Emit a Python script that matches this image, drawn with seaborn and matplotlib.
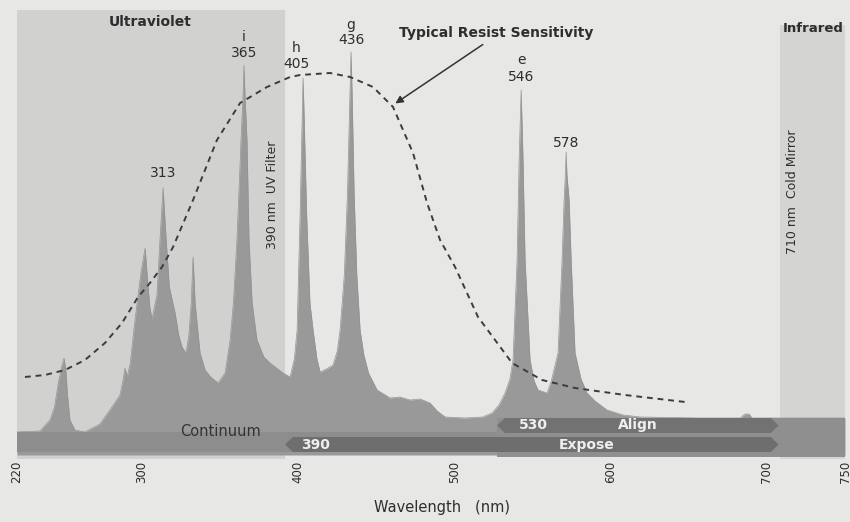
import matplotlib
matplotlib.use("Agg")
import matplotlib.pyplot as plt
import seaborn as sns
import pandas as pd

# -----------------------------
# Data
# -----------------------------
spec_nm = [220, 234.7, 241.1, 244, 246.2, 248.5, 250.1, 251.3, 252.3, 253.9, 257.1,
           263.5, 273.1, 279.5, 285.9, 288, 289.1, 290.5, 292.5, 295, 297.5, 299.5,
           302, 303.5, 305, 306.4, 308, 309.6, 311.5, 312.8, 313.5, 314.2, 315.5, 317.5, 321.2,
           323.5, 325.6, 328.2, 330, 331.5, 332.7, 334, 336, 337.2, 340.4, 344,
           348.7, 353.2, 356.4, 358.5, 360.8, 363.4, 364.7, 365.3, 365.9, 367.2, 368.5, 370.5,
           373.6, 378, 382, 390.3, 394.8, 397.5, 399.3, 401.2, 402.6, 403.1, 403.7, 405.4, 407.5,
           409.5, 412, 414, 418, 422.3, 425, 426.8, 429.5, 431.5, 433.2, 433.8, 434.4, 435.8,
           437.5, 439.6, 442, 445, 450.5, 458.8, 465, 471.6, 478, 484.4, 489, 494,
           506.8, 518, 524.1, 528.5, 532.4, 535.5, 537.5, 540.1, 541.4, 542.2, 542.7, 543.2,
           543.9, 545.2, 548.4, 551, 553.5, 559.3, 562, 566.3, 568.9, 570.2, 571.0, 571.5, 572.0,
           573.4, 574.7, 577.2, 581, 584.9, 590, 597.7, 608, 618.8, 657.3, 682.9,
           686, 688.5, 690.5, 750]
spec_I = [5.75, 6.0, 8.75, 12, 17.5, 22, 24.25, 21, 15, 8.75, 6.25,
          5.75, 7.75, 11.25, 15, 19, 21.75, 19.5, 23, 32, 40, 46,
          51.75, 44, 37, 34, 37, 40, 53.75, 62, 66.75, 62, 53.75, 42, 35.5,
          30, 27, 25.5, 30, 38, 49.5, 38, 30, 25.5, 21.25, 19.5,
          18, 20.5, 28.75, 38, 53.75, 78.75, 90, 97.5, 90, 78.75, 53.75, 38,
          28.75, 24.5, 23, 20.5, 19.5, 24, 31.25, 60, 86, 94.25, 86, 60, 38,
          31.25, 24, 20.75, 21.5, 22.5, 26, 31.25, 45, 65, 92, 100.75, 92, 65,
          45, 31.25, 25, 20.5, 16.25, 14.25, 14.5, 13.75, 14, 13, 11, 9.5,
          9.25, 9.5, 10.5, 12.5, 15.5, 19, 23.75, 48.75, 73.75, 84, 91.25, 84,
          73.75, 48.75, 23.75, 18.5, 16.25, 15.5, 18.5, 25.5, 48.75, 63.75, 70, 75.75, 70,
          63.75, 48.75, 25.5, 19, 15.5, 13.5, 11.25, 10, 9.5, 9.25, 9.25,
          10.25, 10.25, 9.25, 9.25]

resist_nm = [225.1, 237.9, 250.7, 263.5, 276.3, 287.2, 297.5, 305.1, 312.8, 319.9,
             332.7, 348, 362.8, 380, 394.8, 401.2, 420.4, 433.2, 447.9, 460.7,
             473.5, 482.5, 490.8, 500.4, 515.1, 536.9, 556.1, 577.2, 609.2, 647.7]
resist_I = [19.5, 20, 21.25, 23.75, 28, 33, 39.5, 43, 47, 52,
            63.75, 78.75, 88, 92, 94.5, 95, 95.5, 94.5, 92, 87,
            75.5, 63, 53.75, 47, 34.5, 23, 18.75, 16.75, 15, 13.25]

# peak labels: (x, y, text)
line_letters = [(365.3, 104.5, "i"), (398.6, 101.75, "h"), (433.8, 107.5, "g"), (542.7, 98.75, "e")]
line_values = [(313.5, 70.5, "313"), (365.3, 100.5, "365"), (398.6, 97.75, "405"),
               (433.8, 103.75, "436"), (542.7, 94.5, "546"), (571.5, 78.0, "578")]

uv_cut = 391.6       # UV filter edge (nm)
ir_cut = 708.5       # cold mirror edge (nm)
align_range = (527.3, 707.5)
expose_range = (391.6, 707.5)
xticks = [220, 300, 400, 500, 600, 700, 750]

# -----------------------------
# Style
# -----------------------------
sns.set_theme(style="white")
plt.rcParams['font.family'] = ['DejaVu Sans']
BG = "#e7e7e5"
TXT = "#2e2e2e"

fig = plt.figure(figsize=(8.5, 5.22), dpi=100, facecolor=BG)
ax = fig.add_axes([17 / 850, 63 / 522, 828 / 850, 459 / 522])
ax.set_facecolor(BG)
ax.set_xlim(220, 750)
ax.set_ylim(-1, 113.75)
for s in ax.spines.values():
    s.set_visible(False)

# shaded UV / IR regions
ax.axvspan(220, uv_cut, ymin=0, ymax=(111.25 + 1) / 114.75, color="#d1d1cf", lw=0, zorder=0)
ax.axvspan(ir_cut, 750, ymin=0, ymax=(107.5 + 1) / 114.75, color="#d4d4d2", lw=0, zorder=0)

# spectrum
df = pd.DataFrame({"nm": spec_nm, "I": spec_I})
ax.fill_between(df["nm"], 0, df["I"], color="#999999", lw=0, zorder=2)
sns.lineplot(data=df, x="nm", y="I", ax=ax, color="#939393", lw=0.5, zorder=2,
             sort=False, estimator=None)

# bottom bands
ax.fill_between([220, align_range[0]], 0.75, 5.75, color="#8d8d8d", lw=0, zorder=3)
ax.fill_between([align_range[0], 750], -0.5, 9.25, color="#8f8f8f", lw=0, zorder=3)


def band_arrow(x0, x1, y0, y1, color):
    head = 5
    ym = (y0 + y1) / 2
    poly = [(x0, ym), (x0 + head, y1), (x1 - head, y1), (x1, ym), (x1 - head, y0), (x0 + head, y0)]
    ax.add_patch(plt.Polygon(poly, closed=True, color=color, lw=0, zorder=4))


band_arrow(align_range[0], align_range[1], 5.5, 9.25, "#727272")
band_arrow(expose_range[0], expose_range[1], 0.75, 4.5, "#6e6e6e")

# resist sensitivity curve
rdf = pd.DataFrame({"nm": resist_nm, "I": resist_I})
sns.lineplot(data=rdf, x="nm", y="I", ax=ax, color="#3c3c3c", lw=1.4,
             linestyle=(0, (3, 2.5)), zorder=5)
ax.annotate("", xy=(460.7, 87.5), xytext=(519.6, 103),
            arrowprops=dict(arrowstyle="-|>", color="#333333", lw=1.1, mutation_scale=11),
            zorder=6)
ax.text(527, 105.5, "Typical Resist Sensitivity", ha="center", va="center",
        fontsize=10, fontweight="bold", color=TXT)

# labels
for x, y, t in line_letters:
    ax.text(x, y, t, ha="center", va="center", fontsize=10, color=TXT)
for x, y, t in line_values:
    ax.text(x, y, t, ha="center", va="center", fontsize=10, color=TXT)

ax.text(305.1, 108.25, "Ultraviolet", ha="center", va="center", fontsize=10,
        fontweight="bold", color=TXT)
ax.text(710.4, 106.75, "Infrared", ha="left", va="center", fontsize=9.5,
        fontweight="bold", color=TXT)
ax.text(383.3, 65, "390 nm  UV Filter", rotation=90, ha="center", va="center",
        fontsize=9, color=TXT)
ax.text(716.1, 65.75, "710 nm  Cold Mirror", rotation=90, ha="center", va="center",
        fontsize=9, color=TXT)
ax.text(350, 5.9, "Continuum", ha="center", va="center", fontsize=10.5, color="#333333", zorder=6)
ax.text(410.8, 2.6, "390", ha="center", va="center", fontsize=10, fontweight="bold",
        color="#eeeeee", zorder=6)
ax.text(550.3, 7.4, "530", ha="center", va="center", fontsize=10, fontweight="bold",
        color="#eeeeee", zorder=6)
ax.text(617.6, 7.4, "Align", ha="center", va="center", fontsize=10, fontweight="bold",
        color="#eeeeee", zorder=6)
ax.text(584.9, 2.6, "Expose", ha="center", va="center", fontsize=10, fontweight="bold",
        color="#eeeeee", zorder=6)

# axes
ax.set_xticks(xticks)
ax.set_xticklabels([str(t) for t in xticks], rotation=90, fontsize=8.5, color=TXT)
ax.tick_params(axis="x", length=0, pad=1)
ax.set_yticks([])
ax.set_xlabel("")
ax.set_ylabel("")
fig.text(0.52, 0.028, "Wavelength   (nm)", ha="center", va="center", fontsize=10.5, color=TXT)

fig.savefig("out.png", dpi=100, facecolor=BG)
